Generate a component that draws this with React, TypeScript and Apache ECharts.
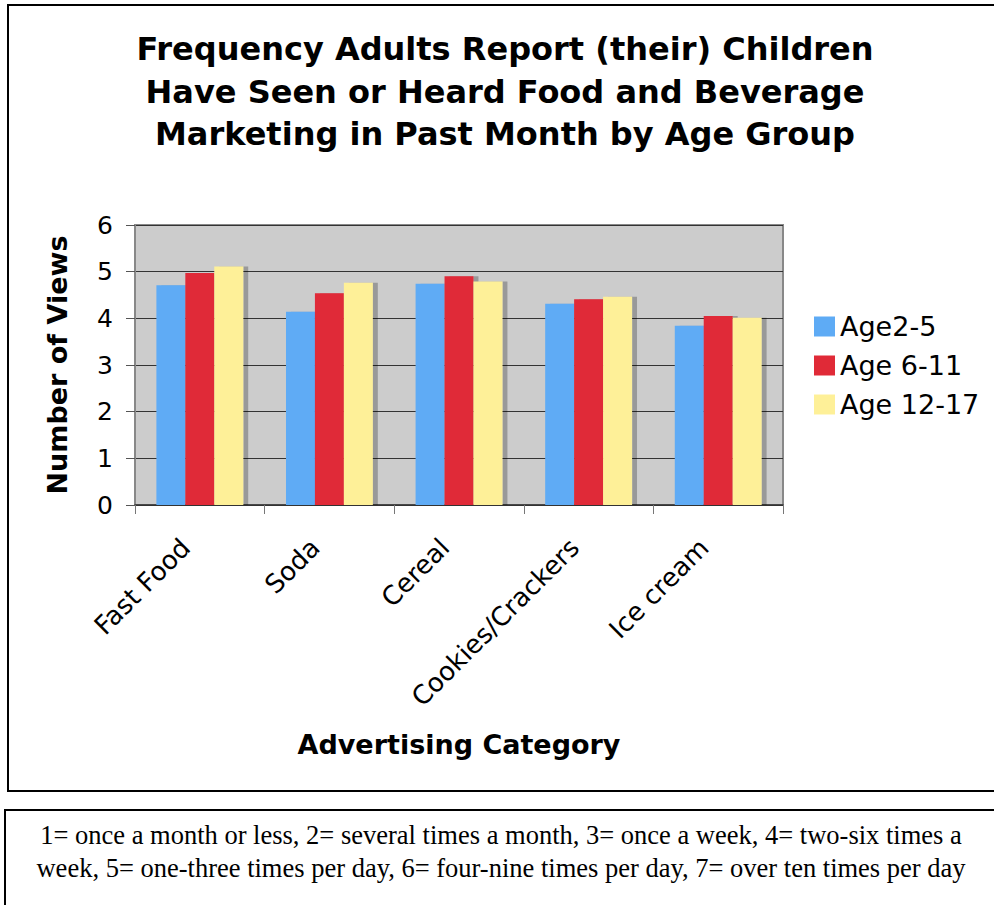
import React, { useEffect, useRef } from "react";
import * as echarts from "echarts";

const categories = ["Fast Food", "Soda", "Cereal", "Cookies/Crackers", "Ice cream"];
const seriesNames = ["Age2-5", "Age 6-11", "Age 12-17"];
const age2to5 = [4.71, 4.14, 4.74, 4.31, 3.84];
const age6to11 = [4.97, 4.54, 4.9, 4.41, 4.05];
const age12to17 = [5.11, 4.76, 4.79, 4.46, 4.01];
const colors = ["#5eabf5", "#e02a37", "#fef098"];
const titleLines = [
  "Frequency Adults Report (their) Children",
  "Have Seen or Heard Food and Beverage",
  "Marketing in Past Month by Age Group",
];
const footnoteLines = [
  "1= once a month or less, 2= several times a month, 3= once a week, 4= two-six times a",
  "week, 5= one-three times per day, 6= four-nine times per day, 7= over ten times per day",
];

export default function App() {
  const ref = useRef<HTMLDivElement>(null);
  useEffect(() => {
    if (!ref.current) return;
    const chart = echarts.init(ref.current, null, { renderer: "svg" });
    const values = [age2to5, age6to11, age12to17];
    const font = "DejaVu Sans, Verdana, sans-serif";
    chart.setOption({
      animation: false,
      backgroundColor: "#ffffff",
      title: {
        text: titleLines.join("\n"),
        left: 500,
        top: 23,
        textAlign: "center",
        textStyle: {
          fontFamily: font,
          fontWeight: "bold",
          fontSize: 32,
          lineHeight: 42.5,
          color: "#000",
        },
      },
      legend: {
        orient: "vertical",
        left: 809,
        top: 308,
        itemWidth: 21,
        itemHeight: 20,
        itemGap: 12,
        icon: "rect",
        data: seriesNames,
        textStyle: { fontFamily: font, fontSize: 27, lineHeight: 27, color: "#000" },
      },
      grid: {
        left: 135,
        right: 211,
        top: 225,
        bottom: 400,
        show: true,
        backgroundColor: "#cccccc",
        borderColor: "#888888",
        borderWidth: 2,
      },
      xAxis: {
        type: "category",
        data: categories,
        name: "Advertising Category",
        nameLocation: "middle",
        nameGap: 226,
        nameTextStyle: { fontFamily: font, fontWeight: "bold", fontSize: 27, color: "#000" },
        axisLine: { lineStyle: { color: "#333", width: 1.5 } },
        axisTick: { show: true, length: 9, lineStyle: { color: "#777" } },
        axisLabel: {
          rotate: 45,
          margin: 24,
          padding: [0, 20, 0, 0],
          fontFamily: font,
          fontSize: 26,
          color: "#000",
        },
      },
      yAxis: {
        type: "value",
        min: 0,
        max: 6,
        interval: 1,
        name: "Number of Views",
        nameLocation: "middle",
        nameGap: 64,
        nameTextStyle: { fontFamily: font, fontWeight: "bold", fontSize: 27, color: "#000" },
        axisLine: { show: true, lineStyle: { color: "#888", width: 2 } },
        axisTick: { show: true, length: 9, lineStyle: { color: "#555" } },
        axisLabel: { margin: 22, fontFamily: font, fontSize: 25, color: "#000" },
        splitLine: { show: true, lineStyle: { color: "#333", width: 1 } },
      },
      series: seriesNames.map((name, i) => ({
        name,
        type: "bar",
        data: values[i],
        barGap: "0%",
        barCategoryGap: "33%",
        itemStyle: {
          color: colors[i],
          shadowColor: "rgba(0,0,0,0.25)",
          shadowOffsetX: 5,
          shadowOffsetY: 0,
          shadowBlur: 0,
        },
        emphasis: { disabled: true },
      })),
      graphic: [
        {
          type: "rect",
          shape: { x: 8, y: 5, width: 1000, height: 786 },
          style: { fill: "none", stroke: "#000", lineWidth: 2 },
          silent: true,
        },
        {
          type: "rect",
          shape: { x: 5, y: 810, width: 1000, height: 120 },
          style: { fill: "none", stroke: "#000", lineWidth: 2 },
          silent: true,
        },
        ...footnoteLines.map((line, i) => ({
          type: "text",
          x: 501,
          y: 835 + i * 33,
          style: {
            text: line,
            fontFamily: "Liberation Serif, Times New Roman, serif",
            fontSize: 26.5,
            fill: "#000",
            textAlign: "center",
            textVerticalAlign: "middle",
          },
          silent: true,
        })),
      ],
    });
    return () => chart.dispose();
  }, []);
  return (
    <div
      ref={ref}
      style={{ position: "fixed", left: 0, top: 0, width: 994, height: 905 }}
    />
  );
}
